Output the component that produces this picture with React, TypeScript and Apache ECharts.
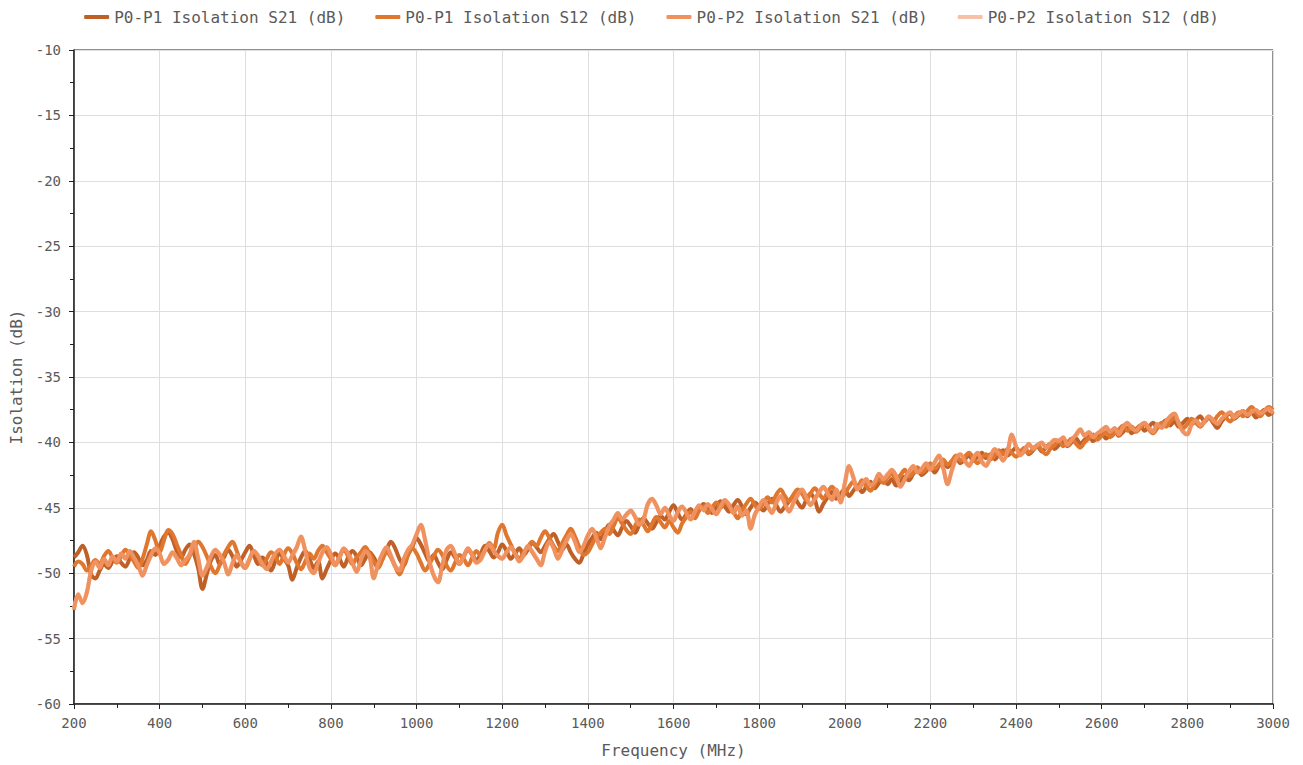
import React, { useEffect, useRef } from "react";
import * as echarts from "echarts";

const FREQ_START = 200;
const FREQ_STEP = 10;

const seriesNames = [
  "P0-P1 Isolation S21 (dB)",
  "P0-P1 Isolation S12 (dB)",
  "P0-P2 Isolation S21 (dB)",
  "P0-P2 Isolation S12 (dB)",
];
const seriesColors = ["#bf6028", "#e0772f", "#f0925f", "#f6c1a6"];

const p0p1S21 = [
  -48.8, -48.4, -47.9, -48.6, -50.1, -50.4, -49.8, -49.3, -49.6, -49.1,
  -48.7, -49.2, -49.5, -48.9, -48.4, -48.8, -49.4, -49.0, -48.3, -48.6,
  -47.9, -47.2, -46.9, -47.4, -48.3, -48.8, -48.2, -47.8, -48.5, -49.6,
  -51.2, -50.1, -49.0, -48.6, -49.3, -48.8, -48.2, -48.7, -49.5, -49.0,
  -48.4, -47.9, -48.6, -49.3, -48.8, -49.2, -49.8, -49.1, -48.5, -48.9,
  -49.4, -50.5, -49.6, -48.8, -48.3, -48.9, -49.6, -49.1, -50.4, -49.7,
  -49.0, -48.5, -48.9, -49.5, -48.8, -48.3, -48.7, -49.4, -48.9, -48.4,
  -48.8, -49.3, -48.7, -48.2, -47.6, -48.1, -48.9, -49.4, -48.6, -48.0,
  -47.3, -47.8, -48.5, -49.1, -48.6, -49.2, -49.7, -49.0, -48.4, -48.8,
  -49.3, -48.7, -48.2, -48.6, -49.0, -48.5, -47.9, -48.3, -48.8, -48.4,
  -47.8, -48.3, -48.9, -48.5, -48.1, -48.6, -48.2, -47.7, -48.0, -48.4,
  -47.9, -47.4, -47.0, -47.6, -48.2, -47.8, -48.4, -48.9, -49.2, -48.5,
  -47.8, -47.3, -46.9, -47.4, -46.8, -46.3, -46.7, -47.1, -46.5, -46.0,
  -46.4, -46.9, -46.3, -45.8, -46.2, -46.6, -46.1, -45.6, -45.9, -45.3,
  -44.8, -45.4, -45.9, -45.5, -45.1, -45.6, -45.2, -44.7, -45.0, -45.4,
  -44.9, -44.5, -44.9, -45.3, -44.8, -44.4, -44.9, -45.5, -45.0, -44.6,
  -44.9, -45.2, -44.7, -44.3, -44.8, -45.3, -44.9, -44.5, -44.1, -44.6,
  -45.0, -44.4, -43.9, -44.4, -45.3, -44.7, -44.2, -43.8, -44.3, -43.9,
  -43.6, -44.1, -43.7, -43.3, -43.8, -43.4, -43.0, -43.5, -43.1, -42.8,
  -43.2, -42.8, -43.3, -43.0, -42.6, -42.9, -42.4, -42.1, -42.5, -42.2,
  -41.9, -42.3, -41.8, -41.5, -41.9, -41.5, -41.2, -41.6, -41.3, -41.0,
  -41.4, -41.1, -40.8, -41.2, -40.9, -41.3, -40.9, -40.6, -41.0, -40.7,
  -40.4, -40.8, -40.5, -40.9, -40.6, -40.3, -40.7, -40.4, -40.1, -40.5,
  -40.2, -39.9, -40.3, -40.0, -39.7, -40.1, -39.8, -39.5, -39.9, -39.6,
  -39.3, -39.7, -39.4, -39.1, -39.5, -39.2, -38.9, -39.3, -39.0, -38.7,
  -39.1, -38.8, -38.5, -38.9, -38.6, -38.3, -38.7, -38.4, -38.8, -38.5,
  -38.2, -38.6, -38.3, -38.0, -38.4, -38.1, -38.5, -38.9, -38.4, -38.0,
  -37.8, -38.2, -37.9, -37.6, -38.0, -37.7, -38.1, -37.8, -37.5, -37.9,
  -37.7,
];

const p0p1S12 = [
  -49.5, -49.1, -49.3, -49.8, -49.4, -49.0, -49.3, -48.7, -48.3, -48.8,
  -49.2, -48.7, -48.2, -48.6, -49.1, -49.6, -48.9, -47.8, -46.8, -47.5,
  -48.4, -47.5, -46.7, -47.0, -47.8, -48.6, -49.3, -48.7, -48.1, -47.6,
  -48.0, -48.7, -49.5, -50.0, -49.4, -48.6, -48.0, -47.6, -48.3, -49.2,
  -49.6, -48.9, -48.3, -48.8, -49.4, -48.9, -48.4, -48.7, -49.3, -48.6,
  -48.1, -48.5, -49.2, -49.7, -49.1, -48.5, -48.9, -48.3, -47.9, -48.4,
  -48.9, -49.4, -48.7, -48.2, -48.7, -49.3, -48.8, -48.4, -48.0, -48.5,
  -49.1, -49.6, -49.0, -48.4, -48.8, -49.5, -50.1, -49.4, -48.6, -48.1,
  -48.5, -49.2, -49.8, -49.3, -48.7, -48.2, -48.6, -49.4, -49.8, -49.2,
  -48.6, -48.9, -49.4, -48.8, -48.3, -48.7, -48.2, -47.7, -48.1, -46.9,
  -46.3, -47.1, -47.8, -48.5, -48.9, -48.4, -48.0, -47.6, -47.9, -47.3,
  -46.8, -47.3, -47.9, -48.3, -47.7, -47.1, -46.6, -47.2, -48.0, -48.6,
  -48.4, -47.8, -47.2, -46.9, -46.6, -47.0, -46.4, -45.8, -46.2, -46.7,
  -47.0, -46.4, -45.9, -46.3, -46.8, -46.2, -45.7, -46.1, -46.5, -46.0,
  -46.5, -46.9, -46.2, -45.7, -45.3, -45.8, -45.2, -44.9, -45.4, -45.0,
  -44.6, -45.0, -44.5, -44.9, -45.3, -45.8, -45.2, -44.7, -44.3, -44.8,
  -45.1, -44.6, -44.2, -44.6, -44.0, -43.6, -44.1, -44.5, -44.0, -43.6,
  -43.9, -44.4, -43.9, -43.5, -43.9, -44.3, -43.8, -43.4, -43.8, -44.2,
  -43.9, -43.4, -43.0, -43.4, -42.9, -43.3, -43.7, -43.2, -42.8, -43.1,
  -42.7, -42.4, -42.8, -42.5, -42.1, -42.6, -42.3, -41.9, -42.3, -42.0,
  -41.6, -42.0, -41.7, -41.3, -41.7, -41.4, -41.0, -41.4, -41.1, -40.8,
  -41.2, -41.6, -41.2, -40.9, -41.3, -41.0, -40.6, -40.9, -40.5, -40.8,
  -41.1, -40.7, -40.4, -40.8, -40.5, -40.2, -40.6, -40.9, -40.5, -40.2,
  -39.9, -40.3, -40.0, -39.7, -40.1, -40.4, -40.0, -39.7, -39.4, -39.8,
  -39.5, -39.2, -39.6, -39.3, -39.0, -38.7, -39.1, -38.8, -39.2, -38.9,
  -38.6, -39.0, -39.3, -38.9, -38.5, -38.8, -38.4, -38.1, -38.5, -38.9,
  -38.6, -38.2, -38.5, -38.8, -38.4, -38.1, -38.4, -38.0, -37.7, -38.1,
  -38.4, -38.0, -37.7, -38.0, -37.6, -37.3, -37.7, -38.0, -37.6, -37.3,
  -37.5,
];

const p0p2S21 = [
  -52.8, -51.6, -52.3, -51.5, -49.8, -49.1, -49.6, -48.9, -49.4, -48.7,
  -49.1, -48.5, -48.9, -48.3, -48.8, -49.4, -50.2, -49.4, -48.6, -48.1,
  -48.5, -49.3, -49.0, -48.4, -48.8, -49.4, -49.0, -48.6, -47.6, -48.9,
  -50.2, -49.6, -48.7, -48.2, -48.6, -49.1, -50.1, -49.3, -48.6, -49.2,
  -49.6, -48.9, -48.3, -48.7, -49.3, -49.7, -49.1, -48.5, -48.2, -48.7,
  -49.2, -48.6, -48.0, -47.2, -48.3, -49.6, -50.0, -49.2, -48.4, -48.0,
  -48.6, -49.4, -48.8, -48.1, -48.5, -49.2, -49.9, -49.0, -48.3, -48.7,
  -50.4, -49.3, -48.5, -48.0, -48.7, -49.5, -49.8, -48.9, -48.2, -47.8,
  -47.0, -46.3, -47.5, -49.1, -50.2, -50.7, -49.4, -48.2, -47.9, -48.6,
  -49.3, -48.7, -48.1, -48.6, -49.2, -48.9, -48.2, -47.8, -48.3, -48.7,
  -48.9, -48.4, -48.0, -48.5, -49.1, -48.6, -47.9, -48.4, -48.9, -49.4,
  -48.3, -47.6, -48.1, -48.9, -48.2, -47.5, -47.0, -47.6, -48.4, -47.9,
  -47.1, -46.6, -47.3, -48.1, -47.2, -46.4, -45.9, -45.4, -45.9, -45.5,
  -45.2, -45.7, -46.3, -45.9, -44.7, -44.3, -44.8, -45.5, -45.0, -45.6,
  -46.0, -45.3, -44.9, -45.4, -45.9, -45.3, -44.8, -45.2, -44.7, -45.1,
  -45.5, -44.9, -44.4, -44.8, -45.4, -44.9, -45.6, -45.2, -46.6, -45.5,
  -44.9, -44.4, -44.9, -45.4, -44.6, -44.1, -44.7, -45.3, -44.6, -44.0,
  -43.6, -44.2, -44.8, -44.3, -43.8, -43.4, -43.9, -44.4, -43.6, -44.6,
  -43.1, -41.8, -42.7, -43.6, -43.2, -42.8, -43.3, -43.0, -42.4, -42.8,
  -42.5, -42.1, -42.6, -43.4, -42.8, -42.2, -41.8, -42.3, -42.0, -41.6,
  -42.1, -41.5, -41.0, -42.0, -43.2, -42.1, -41.2, -40.9, -41.4, -41.8,
  -41.2, -40.8, -41.5, -41.8, -41.1, -40.5, -40.9, -41.4, -40.7, -39.4,
  -40.3, -41.0, -40.6, -40.1, -40.5, -40.2, -40.0, -40.4, -40.1, -39.8,
  -39.9, -39.6, -40.2, -39.8, -39.4, -39.0, -39.5, -39.2, -39.6, -39.3,
  -39.1, -38.8, -39.2, -38.9, -39.4, -38.8, -38.5, -38.9, -39.1, -38.7,
  -38.5, -38.9, -39.2, -38.6, -38.9, -38.4, -38.0, -37.8, -38.6, -39.2,
  -39.4, -38.6, -38.3, -38.7, -38.4, -38.0, -38.3, -38.6, -38.2, -37.9,
  -37.7, -38.1, -37.8, -37.6, -37.9, -37.7, -37.5, -37.8, -37.6, -37.4,
  -37.8,
];

const p0p2S12 = [
  -52.7, -51.7, -52.2, -51.4, -49.9, -49.2, -49.5, -49.0, -49.3, -48.8,
  -49.0, -48.6, -48.8, -48.4, -48.9, -49.3, -50.1, -49.3, -48.7, -48.2,
  -48.6, -49.2, -48.9, -48.5, -48.9, -49.3, -49.1, -48.5, -47.7, -48.8,
  -50.1, -49.5, -48.8, -48.3, -48.5, -49.2, -50.0, -49.2, -48.7, -49.1,
  -49.5, -49.0, -48.4, -48.6, -49.2, -49.6, -49.2, -48.6, -48.3, -48.6,
  -49.1, -48.7, -48.1, -47.3, -48.2, -49.5, -49.9, -49.3, -48.5, -48.1,
  -48.5, -49.3, -48.9, -48.2, -48.4, -49.1, -49.8, -49.1, -48.4, -48.6,
  -50.3, -49.4, -48.6, -48.1, -48.6, -49.4, -49.7, -49.0, -48.3, -47.9,
  -47.1, -46.4, -47.4, -49.0, -50.1, -50.6, -49.5, -48.3, -48.0, -48.5,
  -49.2, -48.8, -48.2, -48.5, -49.1, -49.0, -48.3, -47.9, -48.2, -48.6,
  -48.8, -48.5, -48.1, -48.4, -49.0, -48.7, -48.0, -48.3, -48.8, -49.3,
  -48.4, -47.7, -48.0, -48.8, -48.3, -47.6, -47.1, -47.5, -48.3, -48.0,
  -47.2, -46.7, -47.2, -48.0, -47.3, -46.5, -46.0, -45.5, -45.8, -45.6,
  -45.3, -45.6, -46.2, -45.8, -44.8, -44.4, -44.9, -45.4, -45.1, -45.5,
  -45.9, -45.4, -45.0, -45.3, -45.8, -45.4, -44.9, -45.1, -44.8, -45.0,
  -45.4, -45.0, -44.5, -44.7, -45.3, -45.0, -45.5, -45.3, -46.5, -45.6,
  -45.0, -44.5, -44.8, -45.3, -44.7, -44.2, -44.6, -45.2, -44.7, -44.1,
  -43.7, -44.1, -44.7, -44.4, -43.9, -43.5, -43.8, -44.3, -43.7, -44.5,
  -43.2, -41.9, -42.6, -43.5, -43.3, -42.9, -43.2, -43.1, -42.5, -42.7,
  -42.4, -42.2, -42.5, -43.3, -42.9, -42.3, -41.9, -42.2, -42.1, -41.7,
  -42.0, -41.6, -41.1, -41.9, -43.1, -42.2, -41.3, -41.0, -41.3, -41.7,
  -41.3, -40.9, -41.4, -41.7, -41.2, -40.6, -40.8, -41.3, -40.8, -39.5,
  -40.4, -40.9, -40.7, -40.2, -40.4, -40.3, -40.1, -40.3, -40.2, -39.9,
  -39.8, -39.7, -40.1, -39.9, -39.5, -39.1, -39.4, -39.3, -39.5, -39.4,
  -39.0, -38.9, -39.1, -39.0, -39.3, -38.9, -38.6, -38.8, -39.0, -38.8,
  -38.6, -38.8, -39.1, -38.7, -38.8, -38.5, -38.1, -37.9, -38.5, -39.1,
  -39.3, -38.7, -38.4, -38.6, -38.5, -38.1, -38.2, -38.5, -38.3, -38.0,
  -37.8, -38.0, -37.9, -37.7, -37.8, -37.8, -37.6, -37.7, -37.7, -37.5,
  -37.7,
];

const allSeries = [p0p1S21, p0p1S12, p0p2S21, p0p2S12];

const FONT = "'DejaVu Sans Mono', 'Liberation Mono', monospace";
const TEXT_COLOR = "#5a5a5a";

function toPairs(values: number[]): [number, number][] {
  return values.map((v, i) => [FREQ_START + i * FREQ_STEP, v]);
}

export default function App() {
  const ref = useRef<HTMLDivElement>(null);

  useEffect(() => {
    document.body.style.margin = "0";
    if (!ref.current) return;
    const chart = echarts.init(ref.current, undefined, { renderer: "svg" });
    const zOrder = [3, 3, 3, 2];
    chart.setOption({
      animation: false,
      backgroundColor: "#ffffff",
      legend: {
        top: 4,
        left: "center",
        itemWidth: 25,
        itemHeight: 4,
        itemGap: 30,
        icon: "roundRect",
        textStyle: { fontFamily: FONT, fontSize: 16, color: TEXT_COLOR },
        data: seriesNames,
      },
      grid: {
        left: 73,
        right: 30,
        top: 50,
        bottom: 61,
        show: true,
        borderColor: "#222",
        borderWidth: 1,
      },
      xAxis: {
        type: "value",
        min: 200,
        max: 3000,
        interval: 200,
        name: "Frequency (MHz)",
        nameLocation: "middle",
        nameGap: 38,
        nameTextStyle: { fontFamily: FONT, fontSize: 16, color: TEXT_COLOR },
        axisLine: { show: true, lineStyle: { color: "#222", width: 1.5 } },
        axisTick: { show: true, length: 5, lineStyle: { color: "#222" } },
        minorTick: { show: true, splitNumber: 2, length: 4, lineStyle: { color: "#222" } },
        axisLabel: {
          fontFamily: FONT,
          fontSize: 14,
          color: TEXT_COLOR,
          margin: 12,
          formatter: (v: number) => String(v),
        },
        splitLine: { show: true, lineStyle: { color: "#dedede", width: 1 } },
      },
      yAxis: {
        type: "value",
        min: -60,
        max: -10,
        interval: 5,
        name: "Isolation (dB)",
        nameLocation: "middle",
        nameGap: 50,
        nameTextStyle: { fontFamily: FONT, fontSize: 16, color: TEXT_COLOR },
        axisLine: { show: true, lineStyle: { color: "#222", width: 1.5 } },
        axisTick: { show: true, length: 5, lineStyle: { color: "#222" } },
        minorTick: { show: true, splitNumber: 2, length: 4, lineStyle: { color: "#222" } },
        axisLabel: { fontFamily: FONT, fontSize: 14, color: TEXT_COLOR, margin: 13 },
        splitLine: { show: true, lineStyle: { color: "#dedede", width: 1 } },
      },
      series: allSeries.map((vals, i) => ({
        name: seriesNames[i],
        type: "line",
        data: toPairs(vals),
        showSymbol: false,
        symbol: "none",
        smooth: 0.35,
        z: zOrder[i],
        color: seriesColors[i],
        lineStyle: { width: 4, color: seriesColors[i] },
      })),
    });
    return () => chart.dispose();
  }, []);

  return <div ref={ref} style={{ width: 1303, height: 765 }} />;
}
